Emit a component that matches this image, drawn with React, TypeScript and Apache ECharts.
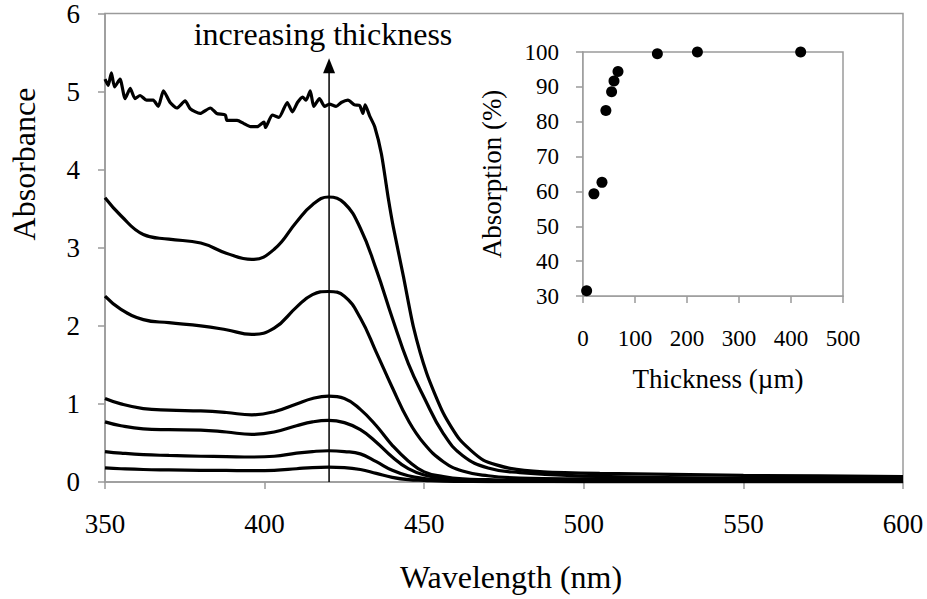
import React, { useEffect, useRef, useState } from "react";
import * as echarts from "echarts";

const FONT = "Liberation Serif";

// Main chart: wavelength axis (nm) and absorbance axis
const wavelengthTicks = [350, 400, 450, 500, 550, 600];
const absorbanceTicks = [0, 1, 2, 3, 4, 5, 6];

// Shared wavelengths for the smooth spectra
const wavelengths = [350, 355, 362, 370, 380, 388, 396, 403, 410, 415, 420, 425, 430, 435, 440, 445, 450, 456, 462, 470, 480, 500, 550, 600];

const spectrum2 = [3.64, 3.41, 3.17, 3.11, 3.06, 2.93, 2.85, 2.98, 3.33, 3.55, 3.65, 3.57, 3.25, 2.72, 2.1, 1.52, 1.08, 0.62, 0.34, 0.18, 0.12, 0.075, 0.05, 0.04];
const spectrum3 = [2.38, 2.21, 2.08, 2.04, 2.0, 1.95, 1.89, 1.97, 2.24, 2.4, 2.44, 2.38, 2.1, 1.66, 1.21, 0.79, 0.49, 0.26, 0.14, 0.08, 0.05, 0.04, 0.03, 0.02];
const spectrum4 = [1.07, 1.0, 0.94, 0.92, 0.91, 0.89, 0.86, 0.9, 1.0, 1.07, 1.1, 1.07, 0.93, 0.72, 0.47, 0.27, 0.13, 0.07, 0.04, 0.03, 0.02, 0.02, 0.01, 0.01];
const spectrum5 = [0.77, 0.72, 0.68, 0.67, 0.665, 0.64, 0.61, 0.64, 0.72, 0.77, 0.79, 0.76, 0.67, 0.51, 0.32, 0.17, 0.09, 0.05, 0.03, 0.02, 0.015, 0.01, 0.01, 0.01];
const spectrum6 = [0.39, 0.37, 0.35, 0.34, 0.33, 0.325, 0.32, 0.33, 0.37, 0.39, 0.4, 0.39, 0.36, 0.26, 0.15, 0.08, 0.045, 0.025, 0.015, 0.01, 0.01, 0.005, 0.005, 0.005];
const spectrum7 = [0.18, 0.17, 0.16, 0.155, 0.15, 0.148, 0.145, 0.15, 0.17, 0.185, 0.19, 0.185, 0.16, 0.11, 0.06, 0.03, 0.02, 0.01, 0.008, 0.005, 0.005, 0.004, 0.003, 0.003];

// Thickest sample (noisy, saturated)
const noisyWavelengths = [350, 351, 352, 353, 354.7, 356.3, 357.9, 359.4, 361, 363, 365.1, 366.7, 368.3, 370.4, 372.5, 375.1, 376.7, 379.8, 383, 385, 387.7, 388.2, 391.4, 393.5, 395.6, 397.7, 399.8, 400.3, 402.4, 404.5, 407.1, 408.7, 410.3, 411.9, 413, 414.3, 415.4, 417.2, 418.8, 420.3, 422.4, 424, 426.1, 428.2, 429.8, 430.8, 431.5, 432.9, 434.5, 436.6, 438.8, 440.3, 443.5, 446.6, 450.8, 456, 461.2, 468.5, 476.9, 487.3, 505, 550, 600];
const noisyAbsorbance = [5.16, 5.08, 5.24, 5.06, 5.16, 4.91, 5.04, 4.91, 4.95, 4.89, 4.89, 4.81, 5.01, 4.86, 4.79, 4.88, 4.78, 4.72, 4.79, 4.72, 4.7, 4.63, 4.63, 4.59, 4.55, 4.55, 4.61, 4.54, 4.7, 4.67, 4.86, 4.74, 4.86, 4.93, 4.89, 5.01, 4.81, 4.91, 4.81, 4.84, 4.81, 4.86, 4.89, 4.83, 4.82, 4.72, 4.83, 4.69, 4.55, 4.2, 3.62, 3.27, 2.63, 1.99, 1.39, 0.88, 0.54, 0.28, 0.175, 0.13, 0.11, 0.085, 0.07];

// Inset: absorption vs thickness
const thicknessTicks = [0, 100, 200, 300, 400, 500];
const absorptionTicks = [30, 40, 50, 60, 70, 80, 90, 100];
const thickness = [7, 21, 36.5, 44, 55, 59.6, 67.3, 143, 220, 418.6];
const absorption = [31.5, 59.3, 62.6, 83.2, 88.6, 91.7, 94.4, 99.5, 100, 100];

// Arrow position (nm) and extent (absorbance)
const arrowWavelength = 420.2;
const arrowTop = 5.33;

const pair = (xs: number[], ys: number[]) => xs.map((x, i) => [x, ys[i]]);

function buildOption(): any {
  const gray = "#9a9a9a";
  const lineSeries = (name: string, data: number[][], smooth: number) => ({
    name,
    type: "line",
    xAxisIndex: 0,
    yAxisIndex: 0,
    data,
    smooth,
    showSymbol: false,
    symbol: "none",
    lineStyle: { color: "#000", width: 3.2 },
    z: 3,
  });
  const spectra = [spectrum2, spectrum3, spectrum4, spectrum5, spectrum6, spectrum7];
  const series: any[] = [
    lineSeries("s1", pair(noisyWavelengths, noisyAbsorbance), 0.2),
    ...spectra.map((s, i) => lineSeries("s" + (i + 2), pair(wavelengths, s), 0.45)),
    {
      name: "arrowShaft",
      type: "line",
      xAxisIndex: 0,
      yAxisIndex: 0,
      data: [[arrowWavelength, 0], [arrowWavelength, arrowTop]],
      showSymbol: false,
      symbol: "none",
      lineStyle: { color: "#000", width: 1.5 },
      z: 4,
    },
    {
      name: "arrowHead",
      type: "scatter",
      xAxisIndex: 0,
      yAxisIndex: 0,
      data: [[arrowWavelength, arrowTop]],
      symbol: "triangle",
      symbolSize: [12, 15],
      itemStyle: { color: "#000", opacity: 1 },
      clip: false,
      z: 4,
    },
    {
      name: "absorption",
      type: "scatter",
      xAxisIndex: 1,
      yAxisIndex: 1,
      data: pair(thickness, absorption),
      symbol: "circle",
      symbolSize: 11,
      itemStyle: { color: "#000", opacity: 1 },
      clip: false,
      z: 5,
    },
  ];
  const axisCommon = (fontSize: number, margin: number) => ({
    type: "value",
    axisLine: { show: true, onZero: false, lineStyle: { color: gray, width: 1.5 } },
    axisTick: { show: true, inside: false, length: 7, lineStyle: { color: gray, width: 1.5 } },
    axisLabel: { color: "#000", fontSize, fontFamily: FONT, margin },
    splitLine: { show: false },
  });
  const nameStyle = (fontSize: number) => ({ color: "#000", fontSize, fontFamily: FONT });

  return {
    animation: false,
    backgroundColor: "#fff",
    textStyle: { fontFamily: FONT },
    title: {
      text: "increasing thickness",
      left: 323,
      top: 18,
      textAlign: "center",
      padding: 0,
      textStyle: { color: "#000", fontSize: 32, fontFamily: FONT, fontWeight: "normal" },
    },
    grid: [
      { left: 105, top: 13, width: 798, height: 469, show: true, borderColor: gray, borderWidth: 1.5, backgroundColor: "transparent" },
      { left: 583, top: 52, width: 260, height: 244, show: true, borderColor: gray, borderWidth: 1.5, backgroundColor: "#fff", z: 4 },
      // helper grids that only carry axis titles at the reference positions
      { left: 105, top: 13, width: 798, height: 302, show: false },
      { left: 119, top: 13, width: 784, height: 469, show: false },
      { left: 593, top: 52, width: 250, height: 244, show: false },
    ],
    xAxis: [
      {
        ...axisCommon(27, 28),
        gridIndex: 0,
        min: wavelengthTicks[0],
        max: wavelengthTicks[wavelengthTicks.length - 1],
        interval: wavelengthTicks[1] - wavelengthTicks[0],
      },
      {
        ...axisCommon(23, 31),
        gridIndex: 1,
        min: thicknessTicks[0],
        max: thicknessTicks[thicknessTicks.length - 1],
        interval: thicknessTicks[1] - thicknessTicks[0],
      },
      { gridIndex: 2, type: "value", show: false, min: 0, max: 1 },
      {
        gridIndex: 3,
        type: "value",
        min: 0,
        max: 1,
        axisLine: { show: false },
        axisTick: { show: false },
        axisLabel: { show: false },
        splitLine: { show: false },
        name: "Wavelength (nm)",
        nameLocation: "middle",
        nameGap: 79,
        nameTextStyle: nameStyle(32),
      },
      {
        gridIndex: 4,
        type: "value",
        min: 0,
        max: 1,
        axisLine: { show: false },
        axisTick: { show: false },
        axisLabel: { show: false },
        splitLine: { show: false },
        name: "Thickness (\u00b5m)",
        nameLocation: "middle",
        nameGap: 69,
        nameTextStyle: nameStyle(27),
      },
    ],
    yAxis: [
      {
        ...axisCommon(27, 25),
        gridIndex: 0,
        min: absorbanceTicks[0],
        max: absorbanceTicks[absorbanceTicks.length - 1],
        interval: absorbanceTicks[1] - absorbanceTicks[0],
      },
      {
        ...axisCommon(23, 24),
        gridIndex: 1,
        min: absorptionTicks[0],
        max: absorptionTicks[absorptionTicks.length - 1],
        interval: absorptionTicks[1] - absorptionTicks[0],
        name: "Absorption (%)",
        nameLocation: "middle",
        nameGap: 78,
        nameTextStyle: nameStyle(27),
      },
      {
        gridIndex: 2,
        type: "value",
        min: 0,
        max: 1,
        axisLine: { show: false },
        axisTick: { show: false },
        axisLabel: { show: false },
        splitLine: { show: false },
        name: "Absorbance",
        nameLocation: "middle",
        nameGap: 65,
        nameTextStyle: nameStyle(32),
      },
      { gridIndex: 3, type: "value", show: false, min: 0, max: 1 },
      { gridIndex: 4, type: "value", show: false, min: 0, max: 1 },
    ],
    series,
  };
}

export default function App() {
  const ref = useRef<HTMLDivElement>(null);
  const [tick, setTick] = useState(0);

  useEffect(() => {
    document.body.style.margin = "0";
    if (!ref.current) return;
    const chart = echarts.init(ref.current, undefined, { renderer: "svg" });
    chart.setOption(buildOption());

    let cancelled = false;
    const refresh = () => {
      if (cancelled) return;
      chart.clear();
      chart.setOption(buildOption(), true);
      setTick((t) => t + 1);
    };
    const timer = window.setTimeout(refresh, 100);
    const timer2 = window.setTimeout(refresh, 400);
    const fonts: any = (document as any).fonts;
    if (fonts && fonts.load) {
      Promise.all([fonts.load(`27px "${FONT}"`), fonts.load(`32px "${FONT}"`)])
        .then(refresh)
        .catch(() => {});
    }

    return () => {
      cancelled = true;
      window.clearTimeout(timer);
      window.clearTimeout(timer2);
      chart.dispose();
    };
  }, []);

  return (
    <div style={{ position: "relative", fontFamily: FONT }}>
      <div ref={ref} style={{ width: 927, height: 599 }} />
      <span
        style={{ position: "absolute", left: 0, top: 0, fontFamily: FONT, fontSize: 10, color: "rgba(255,255,255,0)" }}
        data-refresh={tick}
      >
        {"\u00a0" + tick}
      </span>
    </div>
  );
}
